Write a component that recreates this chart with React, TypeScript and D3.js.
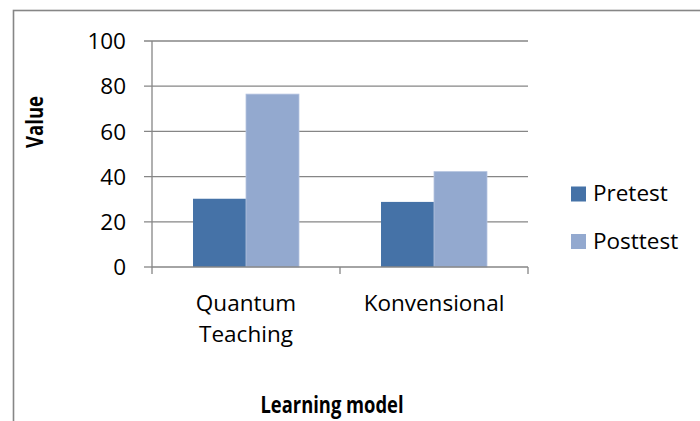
import React from 'react';
import * as d3 from 'd3';

// data
const categories = ['Quantum Teaching', 'Konvensional'];
const categoryLines = [['Quantum', 'Teaching'], ['Konvensional']];
const seriesNames = ['Pretest', 'Posttest'];
const pretest = [30.2, 28.8];
const posttest = [76.5, 42.2];
const yTicks = [0, 20, 40, 60, 80, 100];

const colors = ['#4572A7', '#93A9CF'];
const gridColor = '#868686';
const font = '"Open Sans", Lato, sans-serif';
const fs = 22.5;

const W = 700,
  H = 421;

// plot area, in page pixels
const plot = { left: 152, right: 528, top: 41, bottom: 267 };

const App = () => {
  const x = d3.scaleBand<string>()
    .domain(categories)
    .range([plot.left, plot.right]);

  const xInner = d3.scaleBand<string>()
    .domain(seriesNames)
    .range([0, x.bandwidth()])
    .paddingOuter(0.774);

  const y = d3.scaleLinear()
    .domain([0, 100])
    .range([plot.bottom, plot.top]);

  const values = [pretest, posttest];

  // tick positions along the x axis: band edges
  const xEdges = categories.map(c => x(c)!).concat([plot.right]);

  return (
    <svg width={W} height={H} style={{ display: 'block', position: 'absolute', left: 0, top: 0 }}>
      <rect x={0} y={0} width={W} height={H} fill="#fff" />
      {/* chart frame, cut by the picture edge */}
      <rect x={13.5} y={10.5} width={W + 20} height={H + 20} fill="none" stroke={gridColor} strokeWidth={1.6} />

      {/* gridlines and y ticks */}
      {yTicks.map(t => (
        <g key={t}>
          <line x1={plot.left - 8} x2={t === 0 ? plot.left : plot.right} y1={y(t)} y2={y(t)}
            stroke={gridColor} strokeWidth={1.3} />
          <text x={126} y={y(t)} dy="0.36em" textAnchor="end" fontFamily={font} fontSize={fs} fill="#000">
            {t}
          </text>
        </g>
      ))}

      {/* bars */}
      {values.map((vals, si) =>
        categories.map((c, ci) => (
          <rect key={si + '-' + ci}
            x={x(c)! + xInner(seriesNames[si])!}
            y={y(vals[ci])}
            width={xInner.bandwidth()}
            height={y(0) - y(vals[ci])}
            fill={colors[si]}
            stroke={si === 1 ? '#b4c3df' : 'none'}
            strokeWidth={si === 1 ? 0.8 : 0} />
        ))
      )}

      {/* axes */}
      <line x1={plot.left} x2={plot.left} y1={plot.top} y2={plot.bottom} stroke={gridColor} strokeWidth={1.3} />
      <line x1={plot.left} x2={plot.right} y1={plot.bottom} y2={plot.bottom} stroke={gridColor} strokeWidth={1.3} />
      {xEdges.map((e, i) => (
        <line key={i} x1={e} x2={e} y1={plot.bottom} y2={plot.bottom + 7} stroke={gridColor} strokeWidth={1.3} />
      ))}

      {/* category labels */}
      {categories.map((c, ci) => (
        <text key={c} x={x(c)! + x.bandwidth() / 2} y={310.5} textAnchor="middle"
          fontFamily={font} fontSize={fs} fill="#000">
          {categoryLines[ci].map((ln, li) => (
            <tspan key={li} x={x(c)! + x.bandwidth() / 2} dy={li === 0 ? 0 : 31}>{ln}</tspan>
          ))}
        </text>
      ))}

      {/* axis titles */}
      <text x={332} y={413} textAnchor="middle" fontFamily={font} fontSize={fs} fontWeight="bold" fill="#000"
        textLength={143} lengthAdjust="spacingAndGlyphs">
        Learning model
      </text>
      <text transform="translate(43,122) rotate(-90)" textAnchor="middle" fontFamily={font} fontSize={fs}
        fontWeight="bold" fill="#000" textLength={52} lengthAdjust="spacingAndGlyphs">
        Value
      </text>

      {/* legend */}
      {seriesNames.map((s, i) => (
        <g key={s} transform={`translate(571,${186.5 + i * 47.5})`}>
          <rect width={15} height={15} fill={colors[i]} />
          <text x={22} y={14.5} fontFamily={font} fontSize={fs} fill="#000">{s}</text>
        </g>
      ))}
    </svg>
  );
};

export default App;
